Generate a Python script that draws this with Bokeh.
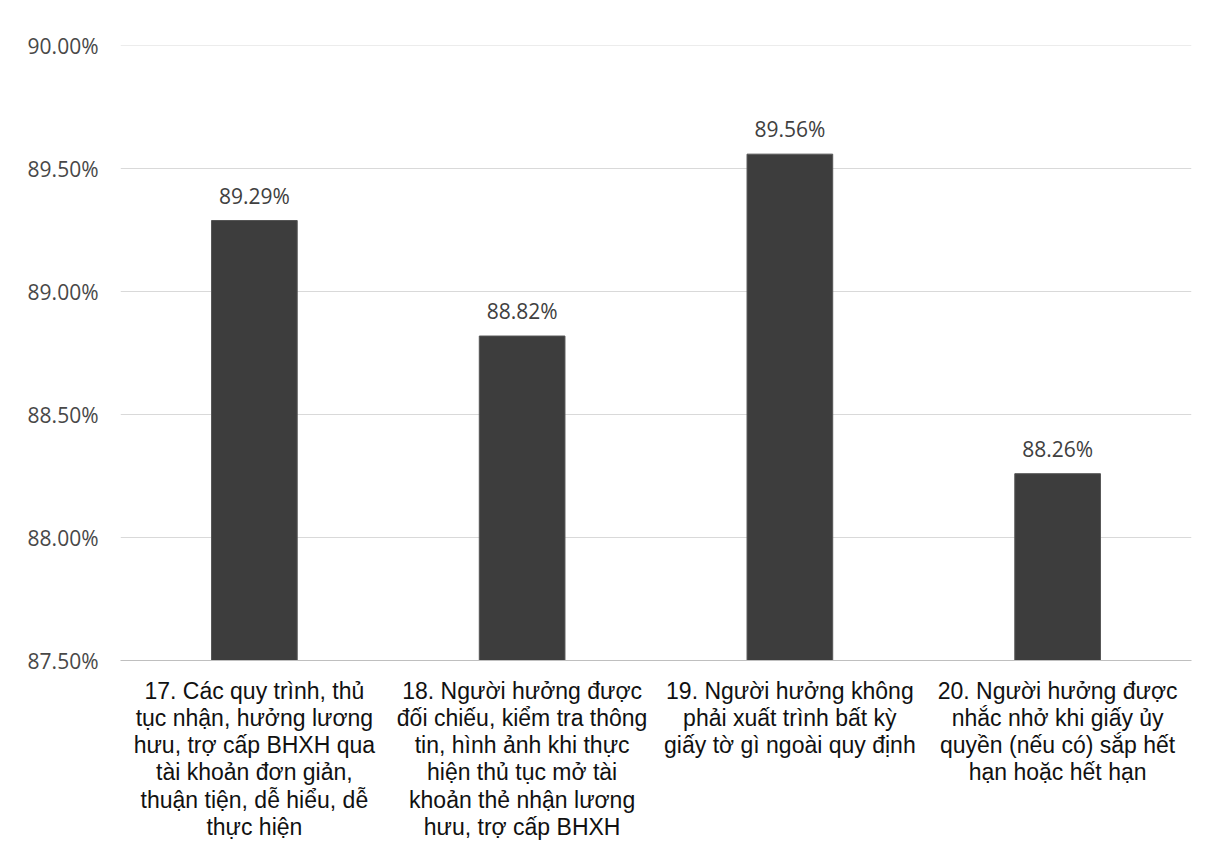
from bokeh.plotting import figure
from bokeh.models import FactorRange, Range1d, FixedTicker, PrintfTickFormatter, ColumnDataSource
from bokeh.core.properties import value
from bokeh.embed import file_html
from bokeh.resources import INLINE

labels = [
    "17. Các quy trình, thủ\ntục nhận, hưởng lương\nhưu, trợ cấp BHXH qua\ntài khoản đơn giản,\nthuận tiện, dễ hiểu, dễ\nthực hiện",
    "18. Người hưởng được\nđối chiếu, kiểm tra thông\ntin, hình ảnh khi thực\nhiện thủ tục mở tài\nkhoản thẻ nhận lương\nhưu, trợ cấp BHXH",
    "19. Người hưởng không\nphải xuất trình bất kỳ\ngiấy tờ gì ngoài quy định",
    "20. Người hưởng được\nnhắc nhở khi giấy ủy\nquyền (nếu có) sắp hết\nhạn hoặc hết hạn",
]
values = [89.29, 88.82, 89.56, 88.26]
y_ticks = [87.5, 88.0, 88.5, 89.0, 89.5, 90.0]

src = ColumnDataSource(dict(x=labels, top=values, txt=[f"{v:.2f}%" for v in values]))

p = figure(width=1210, height=850, x_range=FactorRange(*labels), y_range=Range1d(87.5, 90.002),
           output_backend="svg", toolbar_location=None,
           min_border_left=120, min_border_right=19, min_border_top=45, min_border_bottom=190)
p.outline_line_color = None
p.background_fill_color = "white"
p.border_fill_color = "white"
p.x_range.range_padding = 0
p.x_range.factor_padding = 0

p.vbar(x="x", top="top", bottom=87.5, width=0.32, source=src,
       fill_color="#3d3d3d", line_color="#555555", line_width=1)
p.text(x="x", y="top", text="txt", source=src, y_offset=-11,
       text_align="center", text_baseline="bottom",
       text_font=value("Open Sans"), text_font_size="21px", text_color="#404040")

p.ygrid.ticker = FixedTicker(ticks=y_ticks)
p.ygrid.grid_line_color = "#d9d9d9"
p.ygrid.grid_line_width = 1
p.xgrid.grid_line_color = None

ya = p.yaxis[0]
ya.ticker = FixedTicker(ticks=y_ticks)
ya.formatter = PrintfTickFormatter(format="%.2f%%")
ya.axis_line_color = None
ya.major_tick_line_color = None
ya.minor_tick_line_color = None
ya.major_label_text_font = "Open Sans"
ya.major_label_text_font_size = "21px"
ya.major_label_text_color = "#484848"
ya.major_label_standoff = 16

xa = p.xaxis[0]
xa.axis_line_color = "#bfbfbf"
xa.major_tick_line_color = None
xa.minor_tick_line_color = None
xa.major_label_text_font = "Liberation Sans"
xa.major_label_text_font_size = "23px"
xa.major_label_text_color = "#111111"
xa.major_label_text_line_height = 1.05
xa.major_label_standoff = 11
xa.major_label_orientation = "horizontal"

open("out.html", "w").write(file_html(p, INLINE))
